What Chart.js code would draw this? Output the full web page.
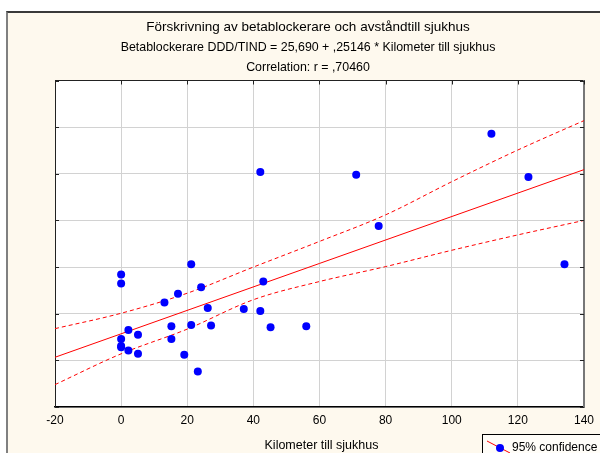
<!DOCTYPE html>
<html><head><meta charset="utf-8">
<script src="https://cdn.jsdelivr.net/npm/chart.js@4.4.1/dist/chart.umd.min.js"></script>
<style>
body{margin:0;width:600px;height:453px;overflow:hidden;background:#fff;position:relative;font-family:'Liberation Sans',Arial,sans-serif}
#frame{position:absolute;left:6px;top:11px;width:594px;height:442px;background:#fef9ee;border-left:2px solid #808080;border-top:2px solid #3a3a3a;box-sizing:border-box}
canvas{position:absolute;left:0;top:0}
.t{position:absolute;left:8px;width:600px;text-align:center;color:#000;white-space:nowrap;line-height:1.15}
#legend{position:absolute;left:482px;top:434px;width:140px;height:30px;border:1px solid #000;background:#fffdf8;box-sizing:border-box}
#legend svg{position:absolute;left:3px;top:5px}
#legend span{position:absolute;left:29px;top:5px;font-size:12px;line-height:14px;white-space:nowrap;color:#000}
</style></head><body>
<div id="frame"></div>
<canvas id="c" width="600" height="453"></canvas>
<div class="t" id="t1" style="top:19px;font-size:13.5px">Förskrivning av betablockerare och avståndtill sjukhus</div>
<div class="t" id="t2" style="top:40px;font-size:12.4px">Betablockerare DDD/TIND = 25,690 + ,25146 * Kilometer till sjukhus</div>
<div class="t" id="t3" style="top:60px;font-size:12.4px">Correlation: r = ,70460</div>
<div class="t" id="xt" style="top:438px;left:21.5px;width:600px;font-size:12.5px">Kilometer till sjukhus</div>
<div id="legend"><svg width="26" height="20" viewBox="0 0 26 20"><line x1="1" y1="1" x2="24" y2="13" stroke="#ff0000" stroke-width="1"/><circle cx="14" cy="8" r="4" fill="#0000ff"/></svg><span>95% confidence</span></div>
<script>
// ---- data ----
const kmX = [0, 0, 21.2, 24.2, 17.2, 13.1, 26.2, 37.1, 42.1, 43.0, 2.2, 0, 0, 0, 5.1, 15.2, 15.2, 21.2, 27.2, 45.2, 56.0, 2.2, 5.1, 19.1, 23.2, 71.1, 77.9, 112.0, 123.2, 134.1, 42.1];
const dddY = [38.4, 36.5, 40.6, 35.7, 34.3, 32.4, 31.2, 31.0, 30.6, 36.9, 26.5, 24.6, 23.1, 22.8, 25.5, 27.3, 24.6, 27.6, 27.5, 27.1, 27.3, 22.1, 21.4, 21.2, 17.6, 59.8, 48.8, 68.6, 59.3, 40.6, 60.4];
const fitX = [-20, 140];
const fitY = [20.66, 60.89];
const bandX = [-20, 0, 20, 40, 60, 80, 100, 120, 140];
const upperY = [26.8, 30.1, 34.4, 40.0, 45.5, 51.2, 58.3, 65.1, 71.4];
const lowerY = [14.8, 21.4, 26.7, 33.0, 36.9, 40.1, 43.6, 46.9, 50.0];
const xTicks = [-20, 0, 20, 40, 60, 80, 100, 120, 140];

const pts = kmX.map((x,i)=>({x:x,y:dddY[i]}));
const fit = fitX.map((x,i)=>({x:x,y:fitY[i]}));
const up = bandX.map((x,i)=>({x:x,y:upperY[i]}));
const lo = bandX.map((x,i)=>({x:x,y:lowerY[i]}));

const bgPlugin = {
  id:'bg',
  beforeDraw(ch){const a=ch.chartArea,c=ch.ctx;c.save();c.fillStyle='#fff';c.fillRect(a.left,a.top,a.right-a.left,a.bottom-a.top);c.restore();},
  afterDraw(ch){
    const a=ch.chartArea,c=ch.ctx,xs=ch.scales.x,ys=ch.scales.y;
    c.save();c.strokeStyle='#222';c.lineWidth=1;c.beginPath();
    xTicks.forEach(v=>{const px=Math.round(xs.getPixelForValue(v))+0.5;c.moveTo(px,a.top);c.lineTo(px,a.top+4);});
    for(let v=10;v<=80;v+=10){const py=Math.round(ys.getPixelForValue(v))+0.5;c.moveTo(a.left,py);c.lineTo(a.left+4,py);c.moveTo(a.right-4,py);c.lineTo(a.right,py);}
    c.stroke();c.restore();
  }
};
const tickFont={family:"'Liberation Sans',Arial",size:12};
new Chart(document.getElementById('c'),{
  type:'scatter',
  data:{datasets:[
    {type:'scatter',data:pts,pointRadius:4,pointHoverRadius:4,backgroundColor:'#0000ff',borderWidth:0,order:0},
    {type:'line',data:fit,borderColor:'#ff0000',borderWidth:1,pointRadius:0,fill:false,order:1},
    {type:'line',data:up,borderColor:'#ff0000',borderWidth:1,borderDash:[4,3],pointRadius:0,fill:false,cubicInterpolationMode:'monotone',order:1},
    {type:'line',data:lo,borderColor:'#ff0000',borderWidth:1,borderDash:[4,3],pointRadius:0,fill:false,cubicInterpolationMode:'monotone',order:1}
  ]},
  options:{
    responsive:false,animation:false,
    layout:{padding:0},
    plugins:{legend:{display:false},title:{display:false},tooltip:{enabled:false}},
    scales:{
      x:{type:'linear',position:'bottom',min:-20,max:140,
        afterBuildTicks(s){s.ticks=xTicks.map(v=>({value:v}));},
        afterFit(s){s.height=46;},
        ticks:{font:tickFont,color:'#000',padding:6,maxRotation:0},
        grid:{color:'#d2d2d2',lineWidth:1,drawTicks:false},
        border:{color:'#000',width:1.5}},
      x2:{type:'linear',position:'top',min:-20,max:140,
        afterFit(s){s.height=80.5;},
        ticks:{display:false},grid:{drawOnChartArea:false,drawTicks:false},
        border:{color:'#222',width:1}},
      y:{type:'linear',position:'left',min:10,max:80,
        ticks:{display:false,stepSize:10},
        afterFit(s){s.width=55;},
        grid:{color:'#d2d2d2',lineWidth:1,drawTicks:false},
        border:{color:'#222',width:1}},
      y2:{type:'linear',position:'right',min:10,max:80,
        ticks:{display:false},afterFit(s){s.width=12;},
        grid:{drawOnChartArea:false,drawTicks:false},
        border:{color:'#777',width:2}}
    }
  },
  plugins:[bgPlugin]
});
</script>
</body></html>
